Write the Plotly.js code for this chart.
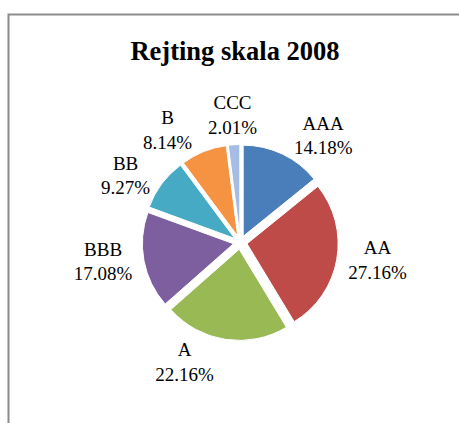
<!DOCTYPE html>
<html>
<head>
<meta charset="utf-8">
<script src="https://cdn.plot.ly/plotly-3.0.1.min.js"></script>
<style>html,body{margin:0;padding:0;background:#fff;}#chart{width:459px;height:423px;}#chart path.textline{display:none;}</style>
</head>
<body>
<div id="chart"></div>
<script>
const categories = ['AAA', 'AA', 'A', 'BBB', 'BB', 'B', 'CCC'];
const shares = [14.18, 27.16, 22.16, 17.08, 9.27, 8.14, 2.01];
const sliceColors = ['#4a7ebb', '#be4b48', '#98b954', '#7d5fa0', '#46aac5', '#f59343', '#a5bde5'];
const chartTitle = 'Rejting skala 2008';

const W = 459, H = 423;
const FONT = '"Liberation Serif", "Times New Roman", serif';
const domX = [142 / W, 338.5 / W];
const domY = [(H - 340.5) / H, (H - 144.5) / H];

// small slices whose labels Plotly would push away are written as annotations
// placed on the slice bisector (computed from the data)
const total = shares.reduce((a, b) => a + b, 0);
const smallSlice = shares.map(v => v / total < 0.03);
const pos = smallSlice.map(s => s ? 'none' : 'outside');

const trace = {
  type: 'pie',
  labels: categories,
  values: shares,
  sort: false,
  direction: 'clockwise',
  rotation: 0,
  pull: categories.map(() => 0.075),
  marker: {colors: sliceColors, line: {color: '#ffffff', width: 1}},
  textposition: pos,
  texttemplate: '%{label}<br>%{percent:.2%}',
  textfont: {family: FONT, size: 19, color: '#000'},
  hoverinfo: 'none',
  domain: {x: domX, y: domY},
  showlegend: false
};

const cxPaper = (domX[0] + domX[1]) / 2;
const cyPaper = (domY[0] + domY[1]) / 2;
const labelRadius = 128; // px from pie centre
const annotations = [];
let cum = 0;
shares.forEach((v, i) => {
  const mid = (cum + v / 2) / total * 2 * Math.PI;
  cum += v;
  if (!smallSlice[i]) return;
  annotations.push({
    xref: 'paper', yref: 'paper',
    x: cxPaper + labelRadius * Math.sin(mid) / W,
    y: cyPaper + labelRadius * Math.cos(mid) / H,
    xanchor: 'center', yanchor: 'middle',
    showarrow: false,
    text: categories[i] + '<br>' + (v / total * 100).toFixed(2) + '%',
    font: {family: FONT, size: 19, color: '#000'}
  });
});

const layout = {
  width: W, height: H,
  margin: {l: 0, r: 0, t: 0, b: 0},
  paper_bgcolor: '#fff',
  title: {
    text: '<b>' + chartTitle + '</b>',
    font: {family: FONT, size: 26.5, color: '#000'},
    x: 235 / W, xanchor: 'center', xref: 'container',
    y: 1 - 51 / H, yanchor: 'middle', yref: 'container'
  },
  annotations: annotations,
  shapes: [{
    type: 'rect', xref: 'paper', yref: 'paper',
    x0: 8.5 / W, x1: 1.05, y0: -0.05, y1: 1 - 14.5 / H,
    line: {color: '#8c8c8c', width: 2}
  }]
};

Plotly.newPlot('chart', [trace], layout, {displayModeBar: false, staticPlot: true});
</script>
</body>
</html>
